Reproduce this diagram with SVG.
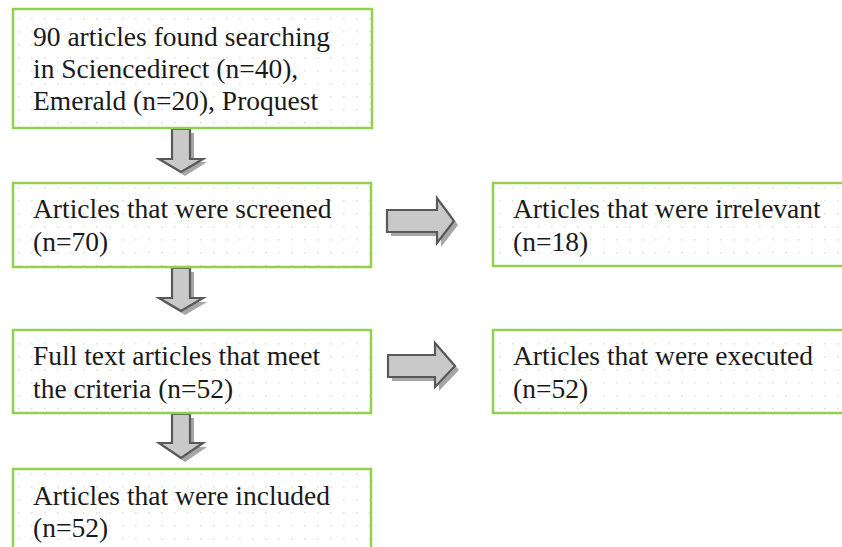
<svg xmlns="http://www.w3.org/2000/svg" width="842" height="547" viewBox="0 0 842 547">
<defs>
<pattern id="dots" x="0" y="0" width="13" height="13" patternUnits="userSpaceOnUse">
<rect x="5" y="5" width="1.5" height="1.5" fill="#dcdcdc"/>
</pattern>
</defs>
<rect width="842" height="547" fill="#ffffff"/>

<g id="connectors">
  <g id="shadows" fill="#a6a6a6">
    <path d="M176,133 L194,133 L194,162 L207,162 L185,176 L163,162 L176,162 Z"/>
    <path d="M176,272 L194,272 L194,302 L207,302 L185,315 L163,302 L176,302 Z"/>
    <path d="M176,418 L194,418 L194,447 L207,447 L185,462 L163,447 L176,447 Z"/>
    <path d="M391,214 L441,214 L441,202 L458,225 L441,247 L441,236 L391,236 Z"/>
    <path d="M392,359 L439,359 L439,347 L459,370 L439,391 L439,381 L392,381 Z"/>
  </g>
  <g id="arrows" fill="#c9c9c9" stroke="#595959" stroke-width="2.2">
    <path d="M172,129 L190,129 L190,159 L203,159 L181,172 L159,159 L172,159 Z"/>
    <path d="M172,268 L190,268 L190,298 L203,298 L181,311 L159,298 L172,298 Z"/>
    <path d="M172,414 L190,414 L190,443 L203,443 L181,458 L159,443 L172,443 Z"/>
    <path d="M387,210 L437,210 L437,198 L454,221 L437,243 L437,232 L387,232 Z"/>
    <path d="M388,355 L435,355 L435,343 L455,366 L435,387 L435,377 L388,377 Z"/>
  </g>
</g>

<g id="boxes" fill="url(#dots)" stroke="#92D050" stroke-width="2.5">
  <rect id="n1-box" x="13" y="9" width="359" height="119"/>
  <rect id="n2-box" x="13" y="183" width="358" height="84"/>
  <rect id="n3-box" x="493" y="183" width="360" height="83"/>
  <rect id="n4-box" x="13" y="330" width="358" height="83"/>
  <rect id="n5-box" x="493" y="330" width="360" height="83"/>
  <rect id="n6-box" x="13" y="469" width="358" height="90"/>
</g>

<g fill="#1a1a1a" font-family="Liberation Serif" font-size="27.5">
<g id="n1">
  <text x="33" y="46">90 articles found searching</text>
  <text x="33" y="78">in Sciencedirect (n=40),</text>
  <text x="33" y="110">Emerald (n=20), Proquest</text>
</g>
<g id="n2">
  <text x="33" y="218">Articles that were screened</text>
  <text x="33" y="251">(n=70)</text>
</g>
<g id="n3">
  <text x="513" y="218">Articles that were irrelevant</text>
  <text x="513" y="251">(n=18)</text>
</g>
<g id="n4">
  <text x="33" y="365">Full text articles that meet</text>
  <text x="33" y="398">the criteria (n=52)</text>
</g>
<g id="n5">
  <text x="513" y="365">Articles that were executed</text>
  <text x="513" y="398">(n=52)</text>
</g>
<g id="n6">
  <text x="33" y="505">Articles that were included</text>
  <text x="33" y="537">(n=52)</text>
</g>
</g>
</svg>
